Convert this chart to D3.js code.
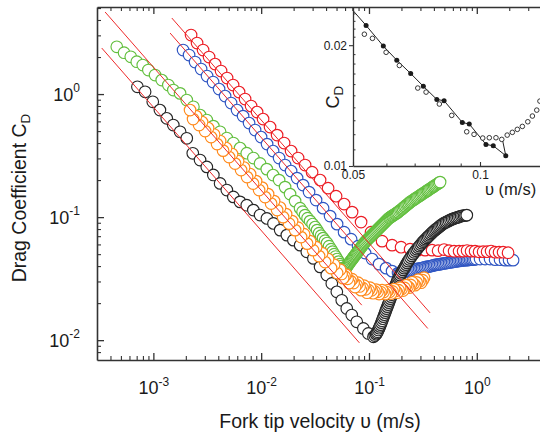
<!DOCTYPE html>
<html>
<head>
<meta charset="utf-8">
<script src="https://cdn.jsdelivr.net/npm/d3@7"></script>
<style>
  body { margin: 0; background: #fff; }
  svg { display: block; }
  text { font-family: "Liberation Sans", Arial, Helvetica, sans-serif; fill: #1a1a1a; }
</style>
</head>
<body>
<svg id="chart" width="540" height="437"></svg>
<script>
// ---- Drag coefficient vs fork tip velocity, five runs ----
const blackV = [0.000711, 0.000838, 0.000987, 0.00115, 0.00133, 0.00153, 0.00177, 0.00204, 0.00232, 0.00271,
  0.00313, 0.00360, 0.00416, 0.00480, 0.00552, 0.00637, 0.00735, 0.00846, 0.00977, 0.0113,
  0.0130, 0.0150, 0.0173, 0.0199, 0.0230, 0.0265, 0.0305, 0.0352, 0.0406, 0.0452,
  0.0503, 0.0559, 0.0622, 0.0692, 0.0770, 0.0887, 0.0987, 0.110,
  0.1132, 0.1164, 0.1183, 0.1202, 0.1221, 0.1241, 0.1261, 0.1281, 0.1302, 0.1323,
  0.1344, 0.1366, 0.1388, 0.1411, 0.1433, 0.1456, 0.1480, 0.1504, 0.1528, 0.1552,
  0.1577, 0.1603, 0.1629, 0.1655, 0.1682, 0.1709, 0.1737, 0.1765, 0.1793, 0.1822,
  0.1851, 0.1881, 0.1912, 0.1943, 0.1985, 0.2027, 0.2071, 0.2116, 0.2162, 0.2208,
  0.2256, 0.2304, 0.2366, 0.2430, 0.2496, 0.2564, 0.2633, 0.2704, 0.2777, 0.2853,
  0.2930, 0.3010, 0.3091, 0.3175, 0.3261, 0.3349, 0.3440, 0.3533, 0.3629, 0.3727,
  0.3828, 0.3931, 0.4038, 0.4147, 0.4259, 0.4375, 0.4494, 0.4615, 0.4740, 0.4868,
  0.5026, 0.5189, 0.5358, 0.5533, 0.5713, 0.5898, 0.6090, 0.6289, 0.6494, 0.6706,
  0.6924, 0.7149, 0.7383, 0.7624, 0.7846, 0.8075];
const blackCD = [1.146, 1.044, 0.866, 0.741, 0.635, 0.560, 0.494, 0.437, 0.330, 0.291,
  0.256, 0.220, 0.188, 0.166, 0.146, 0.133, 0.125, 0.114, 0.104, 0.0976,
  0.0889, 0.0784, 0.0714, 0.0650, 0.0592, 0.0522, 0.0462, 0.0394, 0.0338, 0.0289,
  0.0247, 0.0211, 0.0181, 0.0160, 0.0141, 0.01245, 0.01134, 0.01064,
  0.01091, 0.01119, 0.01145, 0.01172, 0.01211, 0.01252, 0.01294, 0.01337, 0.01388, 0.01440,
  0.01495, 0.01553, 0.01612, 0.01674, 0.01738, 0.01804, 0.01873, 0.01944, 0.02018, 0.02095,
  0.02175, 0.02258, 0.02344, 0.02433, 0.02526, 0.02623, 0.02710, 0.02800, 0.02893, 0.02989,
  0.03089, 0.03192, 0.03283, 0.03377, 0.03489, 0.03605, 0.03725, 0.03849, 0.03977, 0.04110,
  0.04247, 0.04388, 0.04534, 0.04685, 0.04841, 0.05003, 0.05169, 0.05341, 0.05493, 0.05649,
  0.05810, 0.05975, 0.06145, 0.06320, 0.06470, 0.06623, 0.06780, 0.06941, 0.07105, 0.07273,
  0.07445, 0.07621, 0.07765, 0.07913, 0.08062, 0.08214, 0.08370, 0.08528, 0.08689, 0.08852,
  0.08977, 0.09105, 0.09234, 0.09364, 0.09497, 0.09632, 0.09723, 0.09815, 0.09907, 0.1000,
  0.1010, 0.1019, 0.1024, 0.1028, 0.1033, 0.1038];

const redV = [0.002237, 0.002543, 0.002891, 0.003286, 0.003736, 0.004246, 0.004827, 0.005487, 0.006237, 0.007089,
  0.008059, 0.009161, 0.01041, 0.01209, 0.01405, 0.01631, 0.01894, 0.02199, 0.02554, 0.02966,
  0.03519, 0.04175, 0.04952, 0.05875, 0.06969, 0.08446, 0.1045, 0.1323,
  0.1638, 0.1985, 0.2406, 0.2853, 0.3314, 0.3848, 0.4375, 0.4972, 0.5533, 0.6156,
  0.6851, 0.7463, 0.8126, 0.8851, 0.9641, 1.050, 1.144, 1.246, 1.357, 1.478,
  1.610, 1.753, 1.950];
const redCD = [3.018, 2.598, 2.279, 1.999, 1.753, 1.538, 1.349, 1.184, 1.038, 0.911,
  0.799, 0.714, 0.626, 0.539, 0.464, 0.400, 0.344, 0.302, 0.265, 0.232,
  0.200, 0.172, 0.148, 0.1276, 0.1098, 0.0911, 0.0755, 0.0638,
  0.0592, 0.0570, 0.0549, 0.0539, 0.0539, 0.0539, 0.0534, 0.0545, 0.0534, 0.0528,
  0.0529, 0.0529, 0.0535, 0.0529, 0.0529, 0.0522, 0.0524, 0.0524, 0.0530, 0.0519,
  0.0519, 0.0519, 0.0514];

const blueV = [0.001886, 0.002144, 0.002437, 0.002770, 0.003148, 0.003579, 0.004068, 0.004625, 0.005256, 0.005975,
  0.006793, 0.007721, 0.008777, 0.009977, 0.01134, 0.01289, 0.01466, 0.01666, 0.01894, 0.02153,
  0.02447, 0.02781, 0.03230, 0.03751, 0.04356, 0.05058, 0.05875, 0.06822, 0.07921, 0.09200,
  0.1068, 0.1241, 0.1441, 0.1638, 0.1861,
  0.1922, 0.1985, 0.2049, 0.2116, 0.2185, 0.2256, 0.2330, 0.2406, 0.2484, 0.2564,
  0.2647, 0.2733, 0.2823, 0.2915, 0.3010, 0.3108, 0.3209, 0.3314, 0.3422, 0.3533,
  0.3648, 0.3767, 0.3889, 0.4016, 0.4147, 0.4282, 0.4422, 0.4566, 0.4714, 0.4868,
  0.5026, 0.5189, 0.5358, 0.5533, 0.5713, 0.5898, 0.6090, 0.6289, 0.6494, 0.6706,
  0.6924, 0.7149, 0.7383, 0.7624, 0.7871, 0.8126, 0.8391, 0.8664, 0.8946, 0.9237,
  0.9538, 0.9849, 1.073, 1.194, 1.328, 1.478, 1.644, 1.830, 1.993, 2.171];
const blueCD = [2.279, 2.075, 1.820, 1.597, 1.401, 1.252, 1.098, 0.963, 0.845, 0.741,
  0.662, 0.581, 0.510, 0.447, 0.392, 0.344, 0.302, 0.265, 0.2366, 0.2075,
  0.1820, 0.1597, 0.1375, 0.1183, 0.1019, 0.0877, 0.0755, 0.0662, 0.0581, 0.0510,
  0.0456, 0.0415, 0.0385, 0.0364, 0.0351,
  0.03525, 0.0354, 0.03555, 0.0357, 0.03605, 0.0364, 0.03655, 0.0367, 0.0369, 0.0371,
  0.03745, 0.0378, 0.0380, 0.0382, 0.03835, 0.0385, 0.03885, 0.0392, 0.0394, 0.0396,
  0.0398, 0.0400, 0.04035, 0.0407, 0.0409, 0.0411, 0.0413, 0.0415, 0.0417, 0.0419,
  0.0421, 0.0423, 0.0425, 0.0427, 0.0429, 0.0431, 0.0433, 0.0435, 0.0437, 0.0439,
  0.0441, 0.0443, 0.0445, 0.0447, 0.0447, 0.0447, 0.0449, 0.0451, 0.0451, 0.0451,
  0.04535, 0.0456, 0.0456, 0.0456, 0.0456, 0.0451, 0.0451, 0.0447, 0.0447, 0.0447];

const greenV = [0.0004577, 0.0005348, 0.0006171, 0.0007015, 0.0007975, 0.0008987, 0.001037, 0.001196, 0.001377, 0.001532,
  0.001769, 0.002040, 0.002350, 0.002712, 0.003128, 0.003602, 0.004157, 0.004796, 0.005521, 0.006372,
  0.007351, 0.008464, 0.009768, 0.01127, 0.01289, 0.01466, 0.01666, 0.01853, 0.02063,
  0.02295, 0.02421, 0.02554, 0.02694, 0.02842, 0.02998, 0.03162, 0.03300, 0.03443, 0.03594,
  0.03751, 0.03915, 0.04086, 0.04264, 0.04449, 0.04595, 0.04745, 0.04899, 0.05058, 0.05223,
  0.05393, 0.05509, 0.05628, 0.05751, 0.05875,
  0.05970, 0.06066, 0.06164, 0.06264, 0.06365, 0.06468, 0.06572, 0.06678, 0.06786, 0.06896,
  0.07007, 0.07120, 0.07235, 0.07352, 0.07471, 0.07592, 0.07714, 0.07839, 0.07966, 0.08094,
  0.08225, 0.08358, 0.08493, 0.08630, 0.08769, 0.08911, 0.09055, 0.09201,
  0.09400, 0.09603, 0.09810, 0.1002, 0.1024, 0.1046, 0.1069, 0.1092, 0.1115, 0.1139,
  0.1164, 0.1189, 0.1215, 0.1241, 0.1268, 0.1295, 0.1323, 0.1352, 0.1381, 0.1411,
  0.1441, 0.1472, 0.1504, 0.1536, 0.1570, 0.1603, 0.1638, 0.1673, 0.1710, 0.1746,
  0.1784, 0.1823, 0.1862,
  0.1910, 0.1960, 0.2011, 0.2063, 0.2117, 0.2172, 0.2228, 0.2286, 0.2345, 0.2406,
  0.2469, 0.2533, 0.2598, 0.2666, 0.2735, 0.2806, 0.2879, 0.2953, 0.3030, 0.3109,
  0.3189, 0.3272, 0.3357, 0.3444, 0.3533, 0.3625, 0.3719, 0.3816, 0.3915, 0.4016,
  0.4121, 0.4228, 0.4337, 0.4450, 0.4566];
const greenCD = [2.424, 2.167, 2.010, 1.831, 1.721, 1.567, 1.427, 1.299, 1.184, 1.078,
  1.013, 0.894, 0.788, 0.675, 0.615, 0.549, 0.494, 0.439, 0.400, 0.364,
  0.331, 0.302, 0.2733, 0.2455, 0.2196, 0.1999, 0.1753, 0.1538, 0.1349,
  0.1183, 0.1108, 0.1038, 0.0981, 0.0928, 0.0878, 0.0830, 0.0784, 0.0741, 0.0707,
  0.0675, 0.0644, 0.0615, 0.0581, 0.0549, 0.0524, 0.0500, 0.0478, 0.0456, 0.0435,
  0.0415, 0.0400, 0.0385, 0.0378, 0.0371,
  0.03779, 0.03850, 0.03923, 0.03997, 0.04073, 0.04150, 0.04228, 0.04308, 0.04390, 0.04473,
  0.04557, 0.04643, 0.04731, 0.04820, 0.04912, 0.05004, 0.05099, 0.05195, 0.05294, 0.05394,
  0.05496, 0.05600, 0.05705, 0.05813, 0.05923, 0.06035, 0.06149, 0.06265,
  0.06383, 0.06504, 0.06627, 0.06752, 0.06880, 0.07010, 0.07142, 0.07277, 0.07415, 0.07555,
  0.07698, 0.07843, 0.07991, 0.08142, 0.08296, 0.08453, 0.08613, 0.08775, 0.08941, 0.09110,
  0.09282, 0.09458, 0.09636, 0.09818, 0.09941, 0.1007, 0.1019, 0.1032, 0.1045, 0.1058,
  0.1071, 0.1085, 0.1098,
  0.1119, 0.1140, 0.1161, 0.1183, 0.1206, 0.1228, 0.1252, 0.1275, 0.1299, 0.1324,
  0.1344, 0.1364, 0.1385, 0.1406, 0.1427, 0.1448, 0.1470, 0.1492, 0.1515, 0.1538,
  0.1561, 0.1584, 0.1608, 0.1633, 0.1657, 0.1682, 0.1708, 0.1733, 0.1760, 0.1786,
  0.1813, 0.1841, 0.1868, 0.1897, 0.1925];

const orangeV = [0.002189, 0.002335, 0.002489, 0.002654, 0.002830, 0.003018, 0.003217, 0.003430, 0.003657, 0.003899,
  0.004157, 0.004432, 0.004726, 0.005038, 0.005370, 0.005726, 0.006105, 0.006509, 0.006940, 0.007398,
  0.007889, 0.008410, 0.008968, 0.009561, 0.01019, 0.01087, 0.01159, 0.01236, 0.01317, 0.01405,
  0.01497, 0.01596, 0.01702, 0.01815, 0.01935, 0.02063, 0.02199, 0.02345, 0.02500, 0.02666,
  0.02842, 0.03030, 0.03230, 0.03443, 0.03672, 0.03915, 0.04175, 0.04449, 0.04745, 0.05058,
  0.05393, 0.05569, 0.05750, 0.05937, 0.06131, 0.06330, 0.06536, 0.06749, 0.06969, 0.07196,
  0.07430, 0.07672, 0.07921, 0.08180, 0.08446, 0.08722, 0.09006, 0.09299, 0.09601, 0.09911,
  0.1023, 0.1056, 0.1091, 0.1127, 0.1164, 0.1202, 0.1241, 0.1281, 0.1323, 0.1366,
  0.1411, 0.1457, 0.1504, 0.1553, 0.1603, 0.1655, 0.1709, 0.1765, 0.1822, 0.1882,
  0.1943, 0.2006, 0.2071, 0.2139, 0.2208, 0.2280, 0.2354, 0.2431, 0.2510, 0.2592,
  0.2676, 0.2763, 0.2853, 0.2946, 0.3042, 0.3141, 0.3243];
const orangeCD = [0.741, 0.626, 0.662, 0.560, 0.592, 0.500, 0.529, 0.447, 0.469, 0.392,
  0.415, 0.347, 0.364, 0.3075, 0.3252, 0.2722, 0.2853, 0.2411, 0.2526, 0.2114,
  0.2237, 0.1872, 0.1962, 0.1658, 0.1737, 0.1454, 0.1538, 0.1288, 0.1349, 0.1140,
  0.1195, 0.1000, 0.1058, 0.0885, 0.0928, 0.0784, 0.0821, 0.0688, 0.0727, 0.0609,
  0.0638, 0.0539, 0.0570, 0.0482, 0.0510, 0.0431, 0.0456, 0.0385, 0.0411, 0.0351,
  0.0374, 0.0345, 0.0319, 0.0330, 0.0341, 0.0315, 0.0291, 0.0302, 0.0313, 0.0291,
  0.0270, 0.0281, 0.0293, 0.0273, 0.0255, 0.0266, 0.0277, 0.0259, 0.0243, 0.0255,
  0.0267, 0.0254, 0.0241, 0.0249, 0.0257, 0.0247, 0.0237, 0.0246, 0.0255, 0.0246,
  0.0237, 0.0246, 0.0255, 0.0247, 0.0239, 0.0249, 0.0260, 0.0251, 0.0243, 0.0255,
  0.0267, 0.0260, 0.0253, 0.0266, 0.0280, 0.0273, 0.0267, 0.0281, 0.0296, 0.0288,
  0.0280, 0.0295, 0.0310, 0.0301, 0.0293, 0.0307, 0.0322];

// C_D ~ 1/v reference lines: start and end points
const fitV0  = [3.32e-4, 3.565e-4, 1.429e-3, 1.483e-3];
const fitCD0 = [2.366, 4.645, 3.133, 4.15];
const fitV1  = [0.0815, 0.0857, 0.351, 0.3687];
const fitCD1 = [0.00951, 0.01926, 0.01245, 0.01667];

// inset: minimum region of the drag curve
const insetFilledV  = [0.0537, 0.0590, 0.0635, 0.0685, 0.0734, 0.0790, 0.0822, 0.0908, 0.0943, 0.1033, 0.1075, 0.1151];
const insetFilledCD = [0.0224, 0.0199, 0.01835, 0.0170, 0.0158, 0.01465, 0.01454, 0.01284, 0.01272, 0.01132, 0.01123, 0.01061];
const insetLineV  = [0.05, 0.0537, 0.0590, 0.0635, 0.0685, 0.0734, 0.0790, 0.0822, 0.0908, 0.0943, 0.1033, 0.1075, 0.1151, 0.1130];
const insetLineCD = [0.0244, 0.0224, 0.0199, 0.01835, 0.0170, 0.0158, 0.01465, 0.01454, 0.01284, 0.01272, 0.01132, 0.01123, 0.01061, 0.01165];
const insetOpenV  = [0.0532, 0.0556, 0.0599, 0.0644, 0.0712, 0.0745, 0.0801, 0.0857, 0.0930, 0.0968, 0.1015, 0.1052,
  0.1091, 0.1126, 0.1160, 0.1193, 0.1226, 0.1260, 0.1298, 0.1331, 0.1363, 0.1387];
const insetOpenCD = [0.0213, 0.0208, 0.0192, 0.0178, 0.01564, 0.01528, 0.01427, 0.01337, 0.01217, 0.01199, 0.01174, 0.01176,
  0.01176, 0.01165, 0.01194, 0.01213, 0.01234, 0.01255, 0.01289, 0.01332, 0.01378, 0.01451];

// axis ticks and labels
const xMajor = [1e-3, 1e-2, 1e-1, 1];
const xExp = ["-3", "-2", "-1", "0"];
const yMajor = [1e-2, 1e-1, 1];
const yExp = ["-2", "-1", "0"];
const insetXMajor = [0.05, 0.1];
const insetXLabels = ["0.05", "0.1"];
const insetYMajor = [0.01, 0.02];
const insetYLabels = ["0.01", "0.02"];

const COLORS = { black: "#262626", red: "#ec1c24", blue: "#2f55c2", green: "#62bf3e", orange: "#ff8a1c", fit: "#ee2a2a" };

const svg = d3.select("#chart");
const x = d3.scaleLog().domain([3e-4, 4]).range([97, 541.7]);
const y = d3.scaleLog().domain([0.0069, 5.1]).range([360, 7]);

function minorTicks(lo, hi, decades) {
  const out = [];
  decades.forEach(p => { for (let m = 2; m <= 9; m++) { const v = m * Math.pow(10, p); if (v > lo && v < hi) out.push(v); } });
  return out;
}
const xMinor = minorTicks(3.05e-4, 4, [-4, -3, -2, -1, 0]);
const yMinor = minorTicks(0.0071, 5.1, [-3, -2, -1, 0]);

svg.append("defs").append("clipPath").attr("id", "plotClip")
  .append("rect").attr("x", 97).attr("y", 7).attr("width", 450).attr("height", 353);

// ---- data ----
const plot = svg.append("g").attr("clip-path", "url(#plotClip)");
function drawRun(vs, cs, color, reverse) {
  const pts = d3.zip(vs, cs);
  if (reverse) pts.reverse();
  plot.append("g").selectAll("circle").data(pts).join("circle")
    .attr("cx", d => x(d[0])).attr("cy", d => y(d[1])).attr("r", 5.8)
    .attr("fill", "#fff").attr("stroke", color).attr("stroke-width", 1.15);
}
drawRun(blueV, blueCD, COLORS.blue, false);
drawRun(redV, redCD, COLORS.red, false);
drawRun(blackV, blackCD, COLORS.black, false);
drawRun(greenV, greenCD, COLORS.green, false);
drawRun(orangeV, orangeCD, COLORS.orange, true);

const line = d3.line().x(d => x(d[0])).y(d => y(d[1]));
fitV0.forEach((v0, i) => {
  plot.append("path").attr("d", line([[v0, fitCD0[i]], [fitV1[i], fitCD1[i]]]))
    .attr("fill", "none").attr("stroke", COLORS.fit).attr("stroke-width", 1);
});

// ---- main axes ----
function styleAxis(g, width) {
  g.select(".domain").attr("stroke", "#333").attr("stroke-width", 1.6);
  g.selectAll(".tick line").attr("stroke", "#333").attr("stroke-width", width);
}
const gxMinor = svg.append("g").attr("transform", "translate(0,360)")
  .call(d3.axisBottom(x).tickValues(xMinor).tickSize(-4).tickFormat(""));
gxMinor.select(".domain").remove(); styleAxis(gxMinor, 1.1);
const gx = svg.append("g").attr("transform", "translate(0,360)")
  .call(d3.axisBottom(x).tickValues(xMajor).tickSize(-7).tickSizeOuter(0).tickFormat(""));
styleAxis(gx, 1.3);
gx.selectAll(".tick text").each(function (d, i) {
  const t = d3.select(this).attr("y", 33.5).attr("dy", null).attr("font-size", 18).attr("fill", "#1a1a1a");
  t.append("tspan").text("10");
  t.append("tspan").attr("dy", -8).attr("font-size", 12).text(xExp[i]);
});

const gtMinor = svg.append("g").attr("transform", "translate(0,7)")
  .call(d3.axisTop(x).tickValues(xMinor).tickSize(-4).tickFormat(""));
gtMinor.select(".domain").remove(); styleAxis(gtMinor, 1.1);
const gt = svg.append("g").attr("transform", "translate(0,7)")
  .call(d3.axisTop(x).tickValues(xMajor).tickSize(-7).tickSizeOuter(0).tickFormat(""));
styleAxis(gt, 1.3);

const gyMinor = svg.append("g").attr("transform", "translate(97,0)")
  .call(d3.axisLeft(y).tickValues(yMinor).tickSize(-4).tickFormat(""));
gyMinor.select(".domain").remove(); styleAxis(gyMinor, 1.1);
const gy = svg.append("g").attr("transform", "translate(97,0)")
  .call(d3.axisLeft(y).tickValues(yMajor).tickSize(-7).tickSizeOuter(0).tickFormat(""));
styleAxis(gy, 1.3);
gy.selectAll(".tick text").each(function (d, i) {
  const t = d3.select(this).attr("x", -17).attr("dy", "0.37em").attr("font-size", 18).attr("fill", "#1a1a1a");
  t.append("tspan").text("10");
  t.append("tspan").attr("dy", -9).attr("font-size", 12).text(yExp[i]);
});

svg.append("text").attr("x", 320).attr("y", 428).attr("text-anchor", "middle").attr("font-size", 19.5)
  .text("Fork tip velocity \u03C5 (m/s)");
const yTitle = svg.append("text").attr("transform", "translate(26,198) rotate(-90)")
  .attr("text-anchor", "middle").attr("font-size", 19.5);
yTitle.append("tspan").text("Drag Coefficient C");
yTitle.append("tspan").attr("font-size", 13.5).attr("dy", 4).text("D");

// ---- inset ----
const ix = d3.scaleLog().domain([0.05, 0.15]).range([353, 554.3]);
const iy = d3.scaleLog().domain([0.01, 0.0249]).range([166, 7]);
svg.append("defs").append("clipPath").attr("id", "insetClip")
  .append("rect").attr("x", 353).attr("y", 7).attr("width", 200).attr("height", 159);
const inset = svg.append("g");
const insetData = inset.append("g").attr("clip-path", "url(#insetClip)");
const iline = d3.line().x(d => ix(d[0])).y(d => iy(d[1]));
insetData.append("path").attr("d", iline(d3.zip(insetLineV, insetLineCD)))
  .attr("fill", "none").attr("stroke", "#222").attr("stroke-width", 1);
insetData.append("g").selectAll("circle").data(d3.zip(insetOpenV, insetOpenCD)).join("circle")
  .attr("cx", d => ix(d[0])).attr("cy", d => iy(d[1])).attr("r", 2.3)
  .attr("fill", "#fff").attr("stroke", "#222").attr("stroke-width", 0.9);
insetData.append("g").selectAll("circle").data(d3.zip(insetFilledV, insetFilledCD)).join("circle")
  .attr("cx", d => ix(d[0])).attr("cy", d => iy(d[1])).attr("r", 2.5).attr("fill", "#1a1a1a");

const iyMinor = [0.011, 0.012, 0.013, 0.014, 0.015, 0.016, 0.017, 0.018, 0.019, 0.021, 0.022, 0.023, 0.024];
const ixMinor = [0.06, 0.07, 0.08, 0.09];
const giyMinor = inset.append("g").attr("transform", "translate(353,0)")
  .call(d3.axisLeft(iy).tickValues(iyMinor).tickSize(-2.5).tickFormat(""));
giyMinor.select(".domain").remove(); styleAxis(giyMinor, 1);
const giy = inset.append("g").attr("transform", "translate(353,0)")
  .call(d3.axisLeft(iy).tickValues(insetYMajor).tickSize(4).tickSizeOuter(0).tickPadding(2)
    .tickFormat((d, i) => insetYLabels[i]));
styleAxis(giy, 1.1);
giy.select(".domain").attr("stroke-width", 1.3);
giy.selectAll(".tick text").attr("font-size", 12).attr("fill", "#1a1a1a");
const gixMinor = inset.append("g").attr("transform", "translate(0,166)")
  .call(d3.axisBottom(ix).tickValues(ixMinor).tickSize(-2.5).tickFormat(""));
gixMinor.select(".domain").remove(); styleAxis(gixMinor, 1);
const gix = inset.append("g").attr("transform", "translate(0,166)")
  .call(d3.axisBottom(ix).tickValues(insetXMajor).tickSize(-4).tickSizeOuter(0).tickPadding(4)
    .tickFormat((d, i) => insetXLabels[i]));
styleAxis(gix, 1.1);
gix.select(".domain").attr("stroke-width", 1.3);
gix.selectAll(".tick text").attr("font-size", 12).attr("fill", "#1a1a1a");

inset.append("text").attr("x", 485).attr("y", 195).attr("font-size", 16.5).text("\u03C5 (m/s)");
const iyTitle = inset.append("text").attr("transform", "translate(339,97) rotate(-90)")
  .attr("text-anchor", "middle").attr("font-size", 18);
iyTitle.append("tspan").text("C");
iyTitle.append("tspan").attr("font-size", 13.5).attr("dy", 4).text("D");
</script>
</body>
</html>
